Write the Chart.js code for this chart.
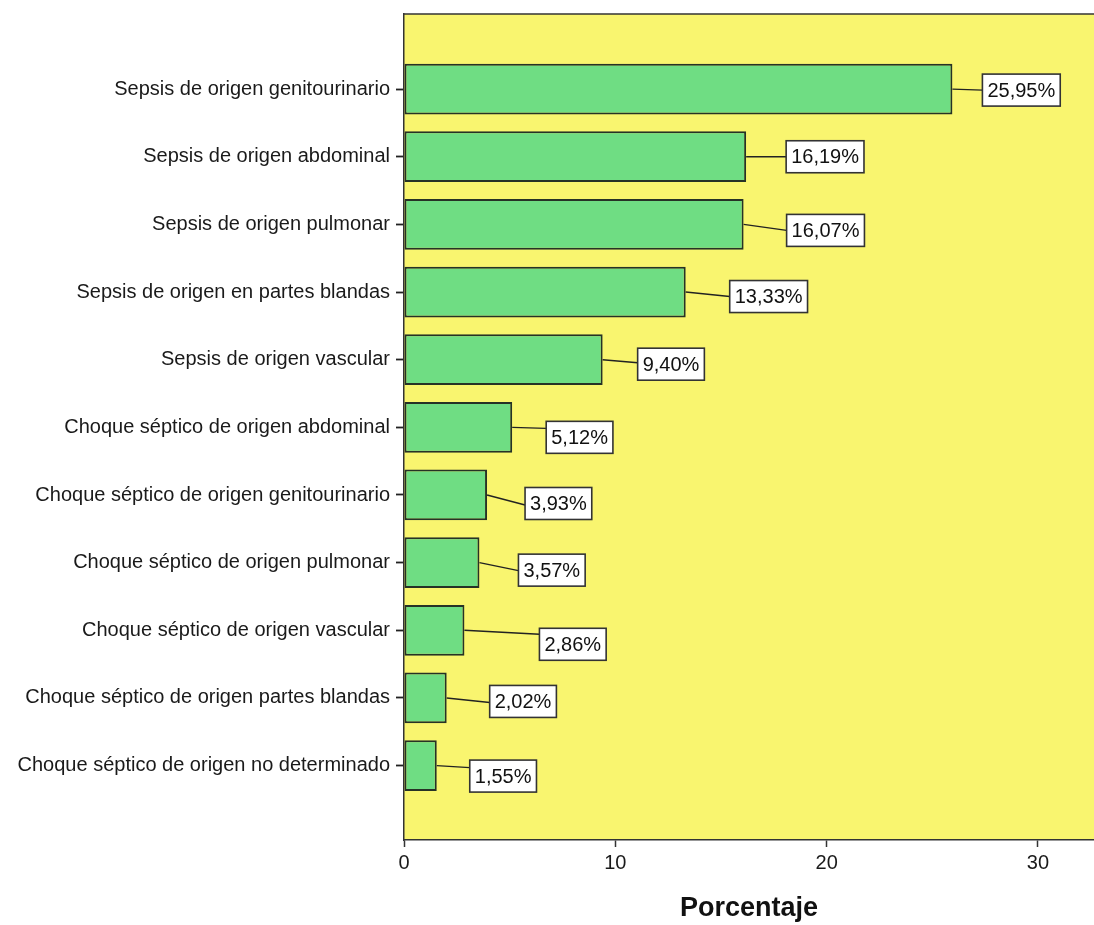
<!DOCTYPE html>
<html>
<head>
<meta charset="utf-8">
<script src="https://cdn.jsdelivr.net/npm/chart.js@4"></script>
<style>
  html, body { margin: 0; padding: 0; background: #fff; }
  #wrap { width: 1094px; height: 925px; }
</style>
</head>
<body>
<div id="wrap"><canvas id="chart" width="1094" height="925"></canvas></div>
<script>
const categories = [
    'Sepsis de origen genitourinario',
    'Sepsis de origen abdominal',
    'Sepsis de origen pulmonar',
    'Sepsis de origen en partes blandas',
    'Sepsis de origen vascular',
    'Choque séptico de origen abdominal',
    'Choque séptico de origen genitourinario',
    'Choque séptico de origen pulmonar',
    'Choque séptico de origen vascular',
    'Choque séptico de origen partes blandas',
    'Choque séptico de origen no determinado'
];
const porcentajes = [25.95, 16.19, 16.07, 13.33, 9.40, 5.12, 3.93, 3.57, 2.86, 2.02, 1.55];
const xTicks = [0, 10, 20, 30];

// where each value box sits relative to the end of its bar
const boxDx = [30, 40, 43, 44, 35, 34, 38, 39, 75, 43, 33];
const lineDy = [1, 0, 6, 4.5, 3, 1, 10, 8, 4, 4.5, 2];
const boxDy = [1, 0, 6, 4.5, 4.5, 10, 8.5, 7.5, 14, 3.5, 10.5];

const FONT = "'Liberation Sans', Arial, sans-serif";

function fmt(v) {
    return v.toFixed(2).replace('.', ',') + '%';
}

const plotBackground = {
    id: 'plotBackground',
    beforeDraw(chart) {
        const { ctx, chartArea: a } = chart;
        ctx.save();
        ctx.fillStyle = '#f9f56f';
        ctx.fillRect(a.left, a.top, a.right - a.left, a.bottom - a.top);
        ctx.strokeStyle = '#333';
        ctx.lineWidth = 1.5;
        ctx.beginPath();
        ctx.moveTo(a.left, a.top);
        ctx.lineTo(a.right, a.top);
        ctx.stroke();
        ctx.restore();
    }
};

const valueBoxes = {
    id: 'valueBoxes',
    afterDatasetsDraw(chart) {
        const ctx = chart.ctx;
        const meta = chart.getDatasetMeta(0);
        ctx.save();
        ctx.font = '20px ' + FONT;
        ctx.textAlign = 'center';
        ctx.textBaseline = 'middle';
        meta.data.forEach((bar, i) => {
            const txt = fmt(porcentajes[i]);
            const w = ctx.measureText(txt).width + 10;
            const h = 32;
            const bx = bar.x + boxDx[i];
            const by = bar.y + boxDy[i];
            ctx.strokeStyle = '#222';
            ctx.lineWidth = 1.4;
            ctx.beginPath();
            ctx.moveTo(bar.x, bar.y);
            ctx.lineTo(bx, bar.y + lineDy[i]);
            ctx.stroke();
            ctx.fillStyle = '#fff';
            ctx.fillRect(bx, by - h / 2, w, h);
            ctx.strokeStyle = '#333';
            ctx.lineWidth = 1.6;
            ctx.strokeRect(bx, by - h / 2, w, h);
            ctx.fillStyle = '#111';
            ctx.fillText(txt, bx + w / 2, by + 1);
        });
        ctx.restore();
    }
};

const ctx = document.getElementById('chart').getContext('2d');
const chart = new Chart(ctx, {
    type: 'bar',
    data: {
        datasets: [{
            data: porcentajes.map((v, i) => ({ x: v, y: i })),
            backgroundColor: '#6fdd83',
            borderColor: '#263226',
            borderWidth: 2,
            borderSkipped: false,
            categoryPercentage: 1,
            barPercentage: 0.75
        }]
    },
    options: {
        indexAxis: 'y',
        responsive: false,
        animation: false,
        layout: { padding: { top: 14, right: 0, left: 0, bottom: 0 } },
        plugins: {
            legend: { display: false },
            tooltip: { enabled: false }
        },
        scales: {
            y: {
                type: 'linear',
                reverse: true,
                offset: false,
                min: -1.11,
                max: 11.1,
                afterBuildTicks: (axis) => {
                    axis.ticks = categories.map((c, i) => ({ value: i }));
                },
                afterFit: (axis) => {
                    axis.width = 404;
                    axis.paddingTop = 0;
                    axis.paddingBottom = 0;
                },
                ticks: {
                    autoSkip: false,
                    padding: 6,
                    color: '#1a1a1a',
                    font: { family: FONT, size: 20 },
                    callback: (v) => categories[v]
                },
                grid: {
                    offset: false,
                    drawOnChartArea: false,
                    tickLength: 8,
                    tickWidth: 1.8,
                    color: '#222'
                },
                border: { color: '#333', width: 1.5 }
            },
            x: {
                type: 'linear',
                min: 0,
                max: 32.65,
                afterBuildTicks: (axis) => {
                    axis.ticks = xTicks.map(v => ({ value: v }));
                },
                afterFit: (axis) => {
                    axis.height = 85;
                    axis.paddingRight = 0;
                },
                ticks: {
                    padding: 4,
                    color: '#1a1a1a',
                    font: { family: FONT, size: 20 }
                },
                grid: {
                    drawOnChartArea: false,
                    tickLength: 7,
                    tickWidth: 1.5,
                    color: '#333'
                },
                border: { color: '#333', width: 1.5 },
                title: {
                    display: true,
                    text: 'Porcentaje',
                    color: '#111',
                    font: { family: FONT, size: 27, weight: 'bold' },
                    padding: { top: 0, bottom: 0 }
                }
            }
        }
    },
    plugins: [plotBackground, valueBoxes]
});
</script>
</body>
</html>
